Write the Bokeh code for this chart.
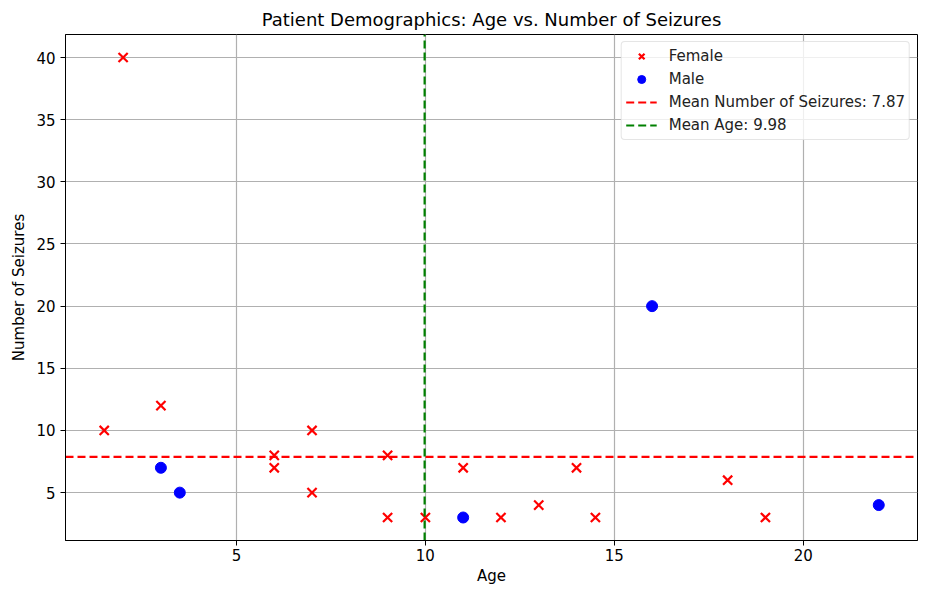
from bokeh.plotting import figure
from bokeh.models import Legend, LegendItem, FixedTicker, Range1d
from bokeh.embed import file_html
from bokeh.resources import INLINE

# Data
female_age = [1.5, 2, 3, 6, 6, 7, 7, 9, 9, 10, 11, 12, 13, 14, 14.5, 18, 19]
female_seizures = [10, 40, 12, 8, 7, 10, 5, 8, 3, 3, 7, 3, 4, 7, 3, 6, 3]
male_age = [3, 3.5, 11, 16, 22]
male_seizures = [7, 5, 3, 20, 4]
mean_seizures = 7.87
mean_age = 9.98
x_ticks = [5, 10, 15, 20]
y_ticks = [5, 10, 15, 20, 25, 30, 35, 40]

X0, X1 = 0.475, 23.025
Y0, Y1 = 1.15, 41.85

FONT = "DejaVu Sans"

p = figure(width=918, height=587, output_backend="svg", toolbar_location=None,
           x_range=Range1d(X0, X1), y_range=Range1d(Y0, Y1),
           title="Patient Demographics: Age vs. Number of Seizures",
           min_border_left=65, min_border_right=1, min_border_top=34, min_border_bottom=44)

p.title.align = "center"
p.title.text_font = FONT
p.title.text_font_size = "18px"
p.title.text_font_style = "normal"
p.title.text_color = "black"

p.outline_line_color = "black"
p.outline_line_width = 1

for ax in (p.xaxis[0], p.yaxis[0]):
    ax.axis_line_color = "black"
    ax.major_tick_line_color = "black"
    ax.major_tick_out = 5
    ax.major_tick_in = 0
    ax.minor_tick_line_color = None
    ax.major_label_text_font = FONT
    ax.major_label_text_font_size = "15px"
    ax.major_label_text_color = "black"
    ax.axis_label_text_font = FONT
    ax.axis_label_text_font_size = "15px"
    ax.axis_label_text_font_style = "normal"
    ax.axis_label_text_color = "black"

p.xaxis[0].ticker = FixedTicker(ticks=x_ticks)
p.yaxis[0].ticker = FixedTicker(ticks=y_ticks)
p.xaxis[0].axis_label = "Age"
p.yaxis[0].axis_label = "Number of Seizures"
p.xaxis[0].major_label_standoff = 3
p.xaxis[0].axis_label_standoff = 3
p.yaxis[0].axis_label_standoff = 5

p.xgrid.grid_line_color = "#b0b0b0"
p.ygrid.grid_line_color = "#b0b0b0"
p.xgrid.grid_line_width = 1.2
p.ygrid.grid_line_width = 1.2
p.xgrid.ticker = FixedTicker(ticks=x_ticks)
p.ygrid.ticker = FixedTicker(ticks=y_ticks)

rf = p.scatter(female_age, female_seizures, marker="x", size=13, line_color="red", line_width=2.2)
rm = p.scatter(male_age, male_seizures, marker="circle", size=11, fill_color="blue", line_color="blue")

lh = p.line(x=[X0, X1], y=[mean_seizures, mean_seizures], line_color="red", line_dash="8 4", line_width=2.2)
lv = p.line(x=[mean_age, mean_age], y=[Y0, Y1], line_color="green", line_dash="8 4", line_width=2.2)

legend = Legend(items=[
    LegendItem(label="Female", renderers=[rf]),
    LegendItem(label="Male", renderers=[rm]),
    LegendItem(label="Mean Number of Seizures: 7.87", renderers=[lh]),
    LegendItem(label="Mean Age: 9.98", renderers=[lv]),
], location="top_right")
legend.label_text_font = FONT
legend.label_text_font_size = "15px"
legend.label_text_color = "#222222"
legend.border_line_color = "#cccccc"
legend.border_line_width = 1
legend.border_radius = 4
legend.background_fill_alpha = 0.8
legend.glyph_width = 31
legend.glyph_height = 20
legend.label_height = 20
legend.spacing = 3
legend.padding = 4
legend.margin = 7
legend.label_standoff = 12
p.add_layout(legend)

open("out.html", "w").write(file_html(p, INLINE))
